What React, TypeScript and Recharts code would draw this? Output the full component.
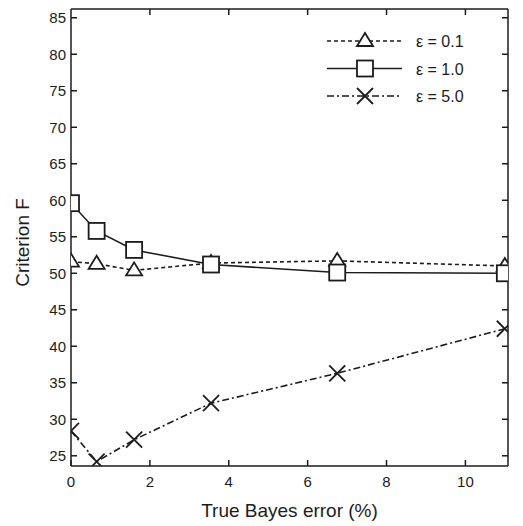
import { LineChart, Line, XAxis, YAxis, Legend, Label } from 'recharts';

// True Bayes error (%) for each run
const bayesError = [0, 0.65, 1.6, 3.55, 6.75, 11.0];
// criterion F per epsilon
const eps01 = [51.6, 51.3, 50.4, 51.4, 51.7, 51.0];
const eps10 = [59.6, 55.8, 53.2, 51.2, 50.1, 50.0];
const eps50 = [28.4, 24.2, 27.2, 32.2, 36.3, 42.4];

const xTicks = [0, 2, 4, 6, 8, 10];
const yTicks = [25, 30, 35, 40, 45, 50, 55, 60, 65, 70, 75, 80, 85];
const xDomain = [0, 11.08];
const yDomain = [23.6, 86.2];

const seriesNames = ['ε = 0.1', 'ε = 1.0', 'ε = 5.0'];

const data = bayesError.map((x, i) => ({ x, e01: eps01[i], e10: eps10[i], e50: eps50[i] }));

const INK = '#1c1c1c';
const FONT = '"Liberation Sans", Arial, sans-serif';
const PLOT_TOP = 9;

const Triangle = (props: any) => {
  const { cx, cy } = props;
  if (cx == null || cy == null) return null;
  return (
    <polygon
      points={`${cx},${cy - 8} ${cx - 8},${cy + 5} ${cx + 8},${cy + 5}`}
      fill="#fff"
      stroke={INK}
      strokeWidth={1.8}
    />
  );
};

const Square = (props: any) => {
  const { cx, cy } = props;
  if (cx == null || cy == null) return null;
  return <rect x={cx - 8} y={cy - 8} width={16} height={16} fill="#fff" stroke={INK} strokeWidth={1.8} />;
};

const Cross = (props: any) => {
  const { cx, cy } = props;
  if (cx == null || cy == null) return null;
  return (
    <g stroke={INK} strokeWidth={1.8}>
      <line x1={cx - 8} y1={cy - 8} x2={cx + 8} y2={cy + 8} />
      <line x1={cx - 8} y1={cy + 8} x2={cx + 8} y2={cy - 8} />
    </g>
  );
};

const LegendBox = () => {
  const rows = [
    { name: seriesNames[0], dash: '4 3', Mark: Triangle },
    { name: seriesNames[1], dash: undefined, Mark: Square },
    { name: seriesNames[2], dash: '7 3 2 3', Mark: Cross }
  ];
  return (
    <svg width={190} height={90}>
      {rows.map((r, i) => {
        const y = 16 + i * 27.5;
        return (
          <g key={r.name}>
            <line x1={7} x2={82} y1={y} y2={y} stroke={INK} strokeWidth={1.6} strokeDasharray={r.dash} />
            <r.Mark cx={45} cy={y} />
            <text x={96} y={y + 6} fontSize={16} fontFamily={FONT} fill={INK}>
              {r.name}
            </text>
          </g>
        );
      })}
    </svg>
  );
};

// x label plus the box frame (top / right edges with inward ticks)
const XLabelAndFrame = ({ viewBox }: any) => {
  const { x, y, width } = viewBox;
  const top = PLOT_TOP;
  const right = x + width;
  const h = y - top;
  const px = (t: number) => x + ((t - xDomain[0]) / (xDomain[1] - xDomain[0])) * width;
  const py = (t: number) => y - ((t - yDomain[0]) / (yDomain[1] - yDomain[0])) * h;
  return (
    <g>
      <g stroke={INK} strokeWidth={1.5}>
        <line x1={x} x2={right} y1={top} y2={top} />
        <line x1={right} x2={right} y1={top} y2={y} />
        {xTicks.slice(1).map((t) => (
          <line key={'tx' + t} x1={px(t)} x2={px(t)} y1={top} y2={top + 6} />
        ))}
        {yTicks.map((t) => (
          <line key={'ty' + t} x1={right} x2={right - 6} y1={py(t)} y2={py(t)} />
        ))}
      </g>
      <text x={x + width / 2} y={y + 51} textAnchor="middle" fontSize={19} fontFamily={FONT} fill={INK}>
        True Bayes error (%)
      </text>
    </g>
  );
};

const tickStyle = { fontSize: 15, fontFamily: FONT, fill: INK };

export default function App() {
  return (
    <div style={{ position: 'absolute', left: 0, top: 0, background: '#fff' }}>
      <LineChart width={523} height={526} data={data} margin={{ top: PLOT_TOP, right: 15, bottom: 0, left: 0 }}>
        <XAxis
          dataKey="x"
          type="number"
          domain={xDomain}
          ticks={xTicks}
          height={60}
          tickSize={-6}
          tickMargin={16}
          stroke={INK}
          strokeWidth={1.5}
          tick={tickStyle}
          allowDataOverflow
        >
          <Label content={XLabelAndFrame} />
        </XAxis>
        <YAxis
          type="number"
          domain={yDomain}
          ticks={yTicks}
          width={71}
          tickSize={-6}
          tickMargin={11}
          stroke={INK}
          strokeWidth={1.5}
          tick={tickStyle}
          allowDataOverflow
        >
          <Label
            content={({ viewBox }: any) => {
              const cx = viewBox.x + 22;
              const cy = viewBox.y + viewBox.height / 2 + 5;
              return (
                <text
                  x={cx}
                  y={cy}
                  transform={`rotate(-90, ${cx}, ${cy})`}
                  textAnchor="middle"
                  dominantBaseline="central"
                  fontSize={19}
                  fontFamily={FONT}
                  fill={INK}
                >
                  Criterion F
                </text>
              );
            }}
          />
        </YAxis>
        <Legend
          layout="vertical"
          align="center"
          verticalAlign="middle"
          content={<LegendBox />}
          wrapperStyle={{ position: 'absolute', left: 320, top: 25, width: 190 }}
        />
        <Line
          dataKey="e01"
          name={seriesNames[0]}
          type="linear"
          stroke={INK}
          strokeWidth={1.6}
          strokeDasharray="4 3"
          dot={<Triangle />}
          isAnimationActive={false}
        />
        <Line
          dataKey="e10"
          name={seriesNames[1]}
          type="linear"
          stroke={INK}
          strokeWidth={1.6}
          dot={<Square />}
          isAnimationActive={false}
        />
        <Line
          dataKey="e50"
          name={seriesNames[2]}
          type="linear"
          stroke={INK}
          strokeWidth={1.6}
          strokeDasharray="7 3 2 3"
          dot={<Cross />}
          isAnimationActive={false}
        />
      </LineChart>
    </div>
  );
}
